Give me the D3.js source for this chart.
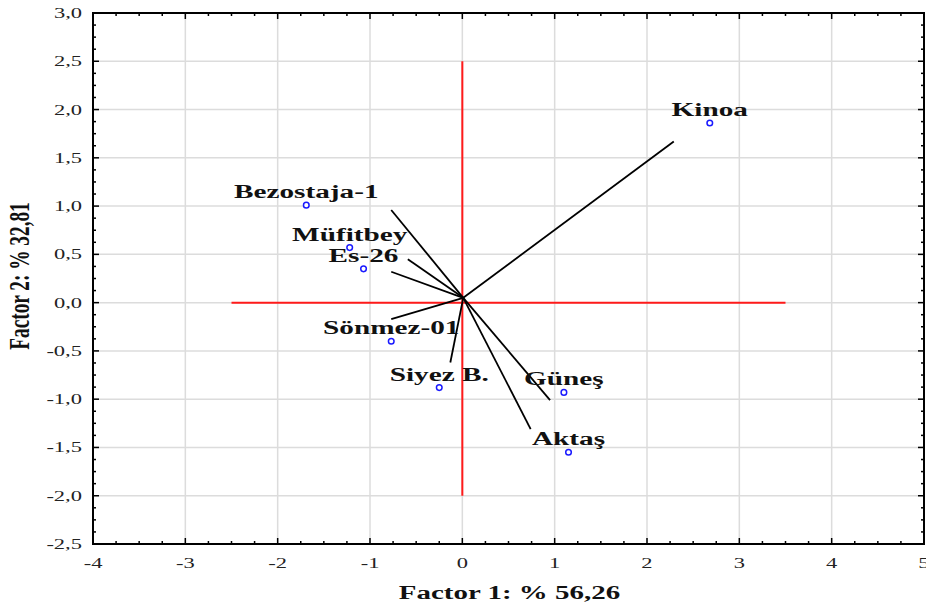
<!DOCTYPE html>
<html>
<head>
<meta charset="utf-8">
<script src="https://cdn.jsdelivr.net/npm/d3@7"></script>
<style>
  html, body { margin: 0; padding: 0; background: #fff; }
  svg { display: block; }
</style>
</head>
<body>
<div id="chart"></div>
<script>
// --- data ---
const names = ["Kinoa", "Bezostaja-1", "Müfitbey", "Es-26", "Sönmez-01", "Siyez B.", "Güneş", "Aktaş"];
const pointX = [2.68, -1.69, -1.22, -1.07, -0.77, -0.25, 1.10, 1.15];
const pointY = [1.86, 1.01, 0.57, 0.35, -0.40, -0.88, -0.93, -1.55];
// vector tips (black lines) and their common origin
const vecX = [2.29, -0.77, -0.59, -0.77, -0.77, -0.13, 0.95, 0.74];
const vecY = [1.67, 0.96, 0.45, 0.32, -0.17, -0.62, -1.01, -1.31];
const vecOrigin = [0.01, 0.05];
// red reference cross
const crossH = [-2.5, 3.5];
const crossV = [-2.0, 2.5];
const xTicks = [-4, -3, -2, -1, 0, 1, 2, 3, 4, 5];
const yTicks = [3.0, 2.5, 2.0, 1.5, 1.0, 0.5, 0.0, -0.5, -1.0, -1.5, -2.0, -2.5];
const xTitle = "Factor 1: % 56,26";
const yTitle = "Factor 2: % 32,81";

(function () {
  const W = 926, H = 607;
  const m = { left: 93, right: 2, top: 13, bottom: 63 };
  const SX = 1.5; // the original picture is stretched sideways, text included
  const SERIF = "'Liberation Serif', 'Times New Roman', serif";

  const x = d3.scaleLinear().domain([-4, 5]).range([m.left, W - m.right]);
  const y = d3.scaleLinear().domain([-2.5, 3]).range([H - m.bottom, m.top]);

  const svg = d3.select("#chart").append("svg")
    .attr("width", W).attr("height", H);

  // gridlines
  const grid = svg.append("g").attr("stroke", "#dcdcdc").attr("stroke-width", 1.5);
  grid.selectAll("line.gx").data(xTicks).enter().append("line")
    .attr("x1", d => x(d)).attr("x2", d => x(d))
    .attr("y1", y(-2.5)).attr("y2", y(3));
  grid.selectAll("line.gy").data(yTicks).enter().append("line")
    .attr("x1", x(-4)).attr("x2", x(5))
    .attr("y1", d => y(d)).attr("y2", d => y(d));

  // ticks on all four sides, drawn inward
  const xMinor = d3.range(-4, 5.001, 0.25);
  const yMinor = d3.range(-2.5, 3.001, 0.125);
  const isMajorX = v => Math.abs(v - Math.round(v)) < 1e-6;
  const isMajorY = v => Math.abs(v * 2 - Math.round(v * 2)) < 1e-6;
  const ticks = svg.append("g").attr("stroke", "#000").attr("stroke-width", 1.5);
  [y(-2.5), y(3)].forEach((yy, i) => {
    const dir = i === 0 ? -1 : 1;
    ticks.append("g").selectAll("line").data(xMinor).enter().append("line")
      .attr("x1", d => x(d)).attr("x2", d => x(d))
      .attr("y1", yy).attr("y2", d => yy + dir * (isMajorX(d) ? 6 : 3));
  });
  [x(-4), x(5)].forEach((xx, i) => {
    const dir = i === 0 ? 1 : -1;
    ticks.append("g").selectAll("line").data(yMinor).enter().append("line")
      .attr("y1", d => y(d)).attr("y2", d => y(d))
      .attr("x1", xx).attr("x2", d => xx + dir * (isMajorY(d) ? 6 : 3));
  });

  // frame
  svg.append("rect")
    .attr("x", x(-4)).attr("y", y(3))
    .attr("width", x(5) - x(-4)).attr("height", y(-2.5) - y(3))
    .attr("fill", "none").attr("stroke", "#000").attr("stroke-width", 2);

  // tick labels
  const fmt = v => d3.format(".1f")(v).replace(".", ",").replace("−", "-");
  svg.append("g").selectAll("text").data(yTicks).enter().append("text")
    .attr("transform", d => `translate(${x(-4) - 11},${y(d) + 5}) scale(${SX},1)`)
    .attr("text-anchor", "end")
    .attr("font-family", SERIF).attr("font-size", 15).attr("fill", "#222")
    .text(fmt);
  svg.append("g").selectAll("text").data(xTicks).enter().append("text")
    .attr("transform", d => `translate(${x(d)},${y(-2.5) + 24}) scale(${SX},1)`)
    .attr("text-anchor", "middle")
    .attr("font-family", SERIF).attr("font-size", 15).attr("fill", "#222")
    .text(d => String(d).replace("−", "-"));

  // axis titles
  svg.append("text")
    .attr("transform", `translate(${(x(-4) + x(5)) / 2 + 1},${H - 8}) scale(${SX},1)`)
    .attr("text-anchor", "middle")
    .attr("font-family", SERIF).attr("font-size", 19.3).attr("font-weight", "bold")
    .attr("fill", "#111")
    .text(xTitle);
  svg.append("text")
    .attr("transform", `translate(${29},${276}) scale(${SX},1) rotate(-90)`)
    .attr("text-anchor", "middle")
    .attr("font-family", SERIF).attr("font-size", 19.3).attr("font-weight", "bold")
    .attr("fill", "#111")
    .text(yTitle);

  // red reference cross
  const red = svg.append("g").attr("stroke", "#ff1a1a").attr("stroke-width", 2);
  red.append("line")
    .attr("x1", x(crossH[0])).attr("x2", x(crossH[1]))
    .attr("y1", y(0)).attr("y2", y(0));
  red.append("line")
    .attr("x1", x(0)).attr("x2", x(0))
    .attr("y1", y(crossV[0])).attr("y2", y(crossV[1]));

  // loading vectors
  svg.append("g").attr("stroke", "#000").attr("stroke-width", 1.8)
    .selectAll("line").data(vecX).enter().append("line")
    .attr("x1", x(vecOrigin[0])).attr("y1", y(vecOrigin[1]))
    .attr("x2", d => x(d)).attr("y2", (d, i) => y(vecY[i]));

  // labels (centred above their points)
  svg.append("g").selectAll("text").data(names).enter().append("text")
    .attr("transform", (d, i) => `translate(${x(pointX[i])},${y(pointY[i]) - 7}) scale(${SX},1)`)
    .attr("text-anchor", "middle")
    .attr("font-family", SERIF).attr("font-size", 19.5).attr("font-weight", "bold")
    .attr("fill", "#111")
    .text(d => d);

  // points
  svg.append("g").selectAll("circle").data(pointX).enter().append("circle")
    .attr("cx", d => x(d)).attr("cy", (d, i) => y(pointY[i]))
    .attr("r", 2.8)
    .attr("fill", "#fff").attr("stroke", "#1a1aff").attr("stroke-width", 1.5);
})();
</script>
</body>
</html>
